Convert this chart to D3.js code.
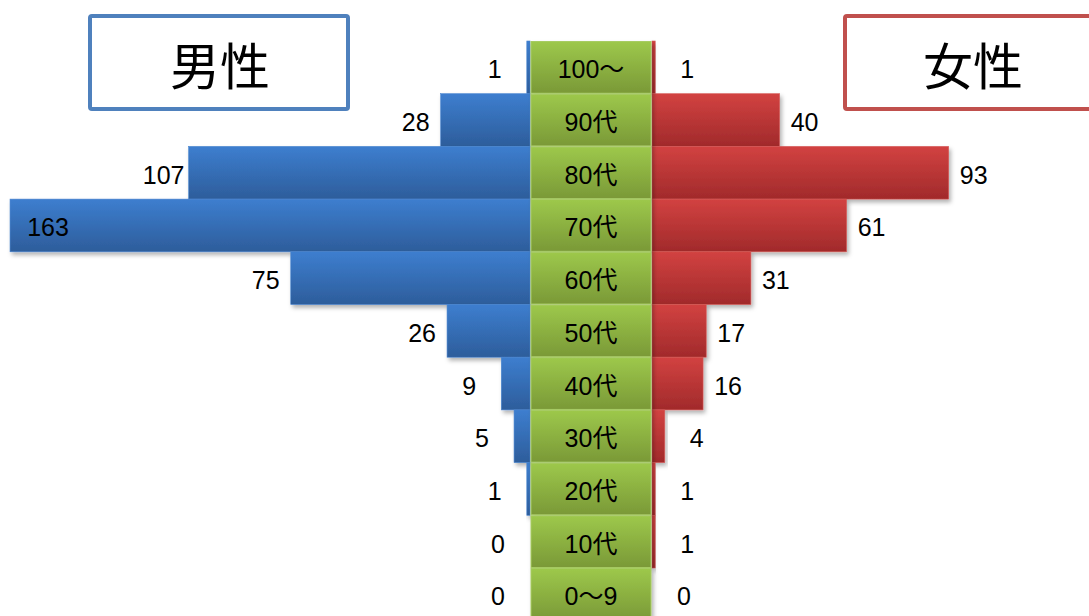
<!DOCTYPE html>
<html>
  <head>
    <meta charset="utf-8" />
    <title>男女別 年代別人数</title>
    <script src="https://d3js.org/d3.v7.min.js"></script>
    <style>
      body {
        margin: 0;
        background: #fff;
        font-family: "Liberation Sans", Arial, "Noto Sans CJK JP", sans-serif;
      }
      svg {
        display: block;
      }
      .val, .cat {
        font-size: 25px;
        fill: #000;
      }
      .title {
        font-size: 50px;
        font-family: "Noto Sans CJK JP", sans-serif;
      }
    </style>
  </head>
  <body>
    <svg width="1089" height="616"></svg>

    <script>
      // data, top row first
      const categories = ["100～", "90代", "80代", "70代", "60代", "50代", "40代", "30代", "20代", "10代", "0～9"];
      const male = [1, 28, 107, 163, 75, 26, 9, 5, 1, 0, 0];
      const female = [1, 40, 93, 61, 31, 17, 16, 4, 1, 1, 0];

      const svg = d3.select("svg");

      const defs = svg.append("defs");
      function grad(id, top, bottom) {
        const g = defs.append("linearGradient").attr("id", id)
          .attr("x1", 0).attr("y1", 0).attr("x2", 0).attr("y2", 1);
        g.append("stop").attr("offset", "0%").attr("stop-color", top);
        g.append("stop").attr("offset", "100%").attr("stop-color", bottom);
      }
      grad("gBlue", "#3d7ecf", "#2d5d9b");
      grad("gRed", "#d24241", "#a12a2b");
      grad("gGreen", "#9dc84b", "#7a9937");

      const shadow = defs.append("filter").attr("id", "shadow")
        .attr("x", "-10%").attr("y", "-20%").attr("width", "130%").attr("height", "160%");
      shadow.append("feDropShadow")
        .attr("dx", 2).attr("dy", 3).attr("stdDeviation", 2)
        .attr("flood-color", "#000").attr("flood-opacity", 0.3);

      const colLeft = 530, colRight = 652;

      const y = d3.scaleBand().domain(categories).range([41, 41 + 52.7 * categories.length]).padding(0);
      const xMale = d3.scaleLinear().domain([0, 100]).range([colLeft, colLeft - 319]);
      const xFemale = d3.scaleLinear().domain([0, 100]).range([colRight, colRight + 319]);

      const rows = categories.map((c, i) => ({ cat: c, m: male[i], f: female[i] }));
      const midY = d => y(d.cat) + y.bandwidth() / 2 + 2;

      // male bars
      svg.append("g").selectAll("rect").data(rows.filter(d => d.m > 0)).join("rect")
        .attr("x", d => xMale(d.m))
        .attr("y", d => y(d.cat))
        .attr("width", d => xMale(0) - xMale(d.m))
        .attr("height", y.bandwidth())
        .attr("fill", "url(#gBlue)")
        .attr("stroke", "#4a86d0").attr("stroke-width", 0.6)
        .attr("filter", "url(#shadow)");

      // female bars
      svg.append("g").selectAll("rect").data(rows.filter(d => d.f > 0)).join("rect")
        .attr("x", xFemale(0))
        .attr("y", d => y(d.cat))
        .attr("width", d => xFemale(d.f) - xFemale(0))
        .attr("height", y.bandwidth())
        .attr("fill", "url(#gRed)")
        .attr("stroke", "#d65a58").attr("stroke-width", 0.6)
        .attr("filter", "url(#shadow)");

      // centre column of age labels
      const cells = svg.append("g").selectAll("g").data(rows).join("g");
      cells.append("rect")
        .attr("x", colLeft + 1)
        .attr("y", d => y(d.cat) + 0.5)
        .attr("width", colRight - colLeft - 2)
        .attr("height", y.bandwidth() - 1)
        .attr("fill", "url(#gGreen)")
        .attr("stroke", "#a7cc62").attr("stroke-width", 1)
        .attr("filter", "url(#shadow)");
      cells.append("text")
        .attr("class", "cat")
        .attr("x", (colLeft + colRight) / 2)
        .attr("y", midY)
        .attr("text-anchor", "middle")
        .attr("dominant-baseline", "central")
        .text(d => d.cat);

      // value labels
      const off = v => (String(v).length === 1 ? 32 : 25);
      svg.append("g").selectAll("text").data(rows).join("text")
        .attr("class", "val")
        .attr("x", d => Math.max(xMale(d.m) - off(d.m), 48))
        .attr("y", midY)
        .attr("text-anchor", "middle")
        .attr("dominant-baseline", "central")
        .text(d => d.m);
      svg.append("g").selectAll("text").data(rows).join("text")
        .attr("class", "val")
        .attr("x", d => xFemale(d.f) + off(d.f))
        .attr("y", midY)
        .attr("text-anchor", "middle")
        .attr("dominant-baseline", "central")
        .text(d => d.f);

      // title boxes
      const titles = [
        { text: "男性", x: 90, w: 258, tx: 220, color: "#4f81bd" },
        { text: "女性", x: 845, w: 260, tx: 973, color: "#c0504d" }
      ];
      const tg = svg.append("g").selectAll("g").data(titles).join("g");
      tg.append("rect")
        .attr("x", d => d.x).attr("y", 16)
        .attr("width", d => d.w).attr("height", 93)
        .attr("rx", 2)
        .attr("fill", "#fff")
        .attr("stroke", d => d.color).attr("stroke-width", 4);
      tg.append("text")
        .attr("class", "title")
        .attr("x", d => d.tx).attr("y", 63)
        .attr("text-anchor", "middle")
        .attr("dominant-baseline", "central")
        .text(d => d.text);
    </script>
  </body>
</html>
